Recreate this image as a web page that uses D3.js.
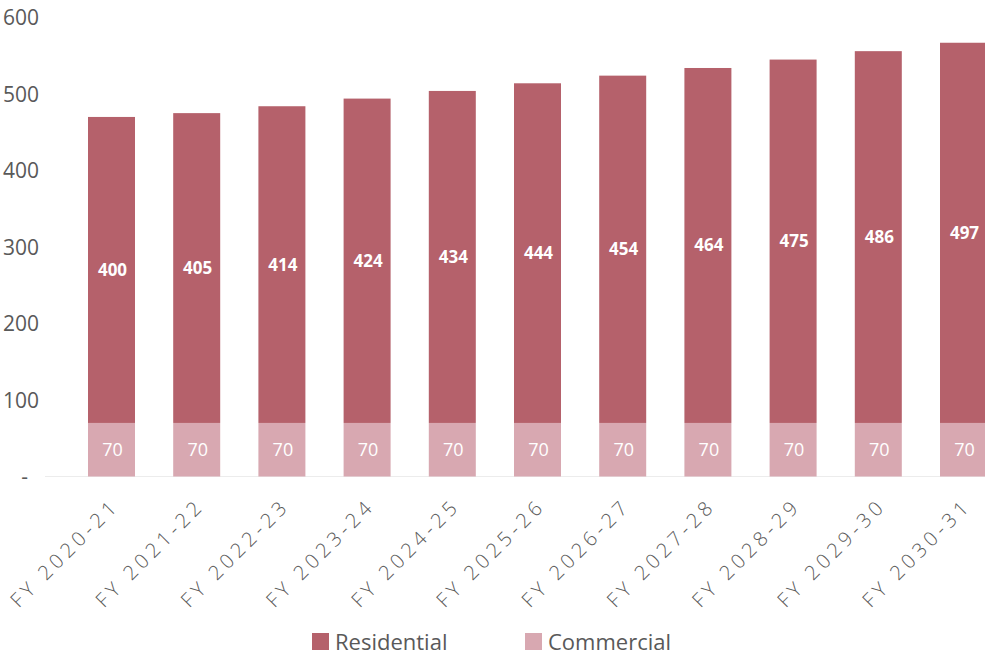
<!DOCTYPE html>
<html lang="en">
<head>
<meta charset="utf-8">
<title>Residential and Commercial</title>
<script src="https://cdn.jsdelivr.net/npm/d3@7"></script>
<style>
  body { margin: 0; background: #fff; }
  svg { display: block; }
</style>
</head>
<body>
<script>
// data
var categories = ["FY 2020-21", "FY 2021-22", "FY 2022-23", "FY 2023-24", "FY 2024-25",
                  "FY 2025-26", "FY 2026-27", "FY 2027-28", "FY 2028-29", "FY 2029-30", "FY 2030-31"];
var commercial = [70, 70, 70, 70, 70, 70, 70, 70, 70, 70, 70];
var residential = [400, 405, 414, 424, 434, 444, 454, 464, 475, 486, 497];
var yTicks = [0, 100, 200, 300, 400, 500, 600];
var seriesNames = ["Residential", "Commercial"];

var w = 985, h = 655;
var colResidential = "#b5616b";
var colCommercial = "#d8a8b1";
var textGrey = "#595959";
var font = "'Open Sans', sans-serif";

var svg = d3.select("body").append("svg")
    .attr("width", w)
    .attr("height", h);

var x = d3.scaleBand()
    .domain(categories)
    .range([68.9, 1006.1])
    .paddingInner(0.4484)
    .paddingOuter(0.2242);

var y = d3.scaleLinear()
    .domain([0, 600])
    .range([476.5, 17.5]);

// stacked data
var rows = categories.map(function(c, i) {
  return { cat: c, Commercial: commercial[i], Residential: residential[i] };
});
var stack = d3.stack().keys(["Commercial", "Residential"]);
var layers = stack(rows);
var colors = { Commercial: colCommercial, Residential: colResidential };

// faint baseline
svg.append("line")
   .attr("x1", 45).attr("x2", w)
   .attr("y1", y(0)).attr("y2", y(0))
   .attr("stroke", "#ececec")
   .attr("stroke-width", 1);

// y axis
var yAxis = svg.append("g")
    .attr("transform", "translate(39,0)")
    .call(d3.axisLeft(y).tickValues(yTicks).tickSize(0).tickPadding(0)
      .tickFormat(function(d) { return d === 0 ? "-" : d; }));
yAxis.select(".domain").remove();
yAxis.selectAll("text")
    .attr("font-family", font)
    .attr("font-size", "21px")
    .attr("fill", textGrey)
    .attr("dy", "0.35em");
yAxis.selectAll(".tick").filter(function(d) { return d === 0; })
    .select("text").attr("x", -11);

// bars
var groups = svg.selectAll("g.layer")
    .data(layers)
    .enter().append("g")
    .attr("class", "layer")
    .attr("fill", function(d) { return colors[d.key]; });

groups.selectAll("rect")
    .data(function(d) { return d; })
    .enter().append("rect")
    .attr("x", function(d) { return x(d.data.cat); })
    .attr("y", function(d) { return y(d[1]); })
    .attr("width", x.bandwidth())
    .attr("height", function(d) { return y(d[0]) - y(d[1]); });

// value labels
groups.each(function(layer) {
  var bold = layer.key === "Residential";
  d3.select(this).selectAll("text")
    .data(layer)
    .enter().append("text")
    .text(function(d) { return d.data[layer.key]; })
    .attr("x", function(d) { return x(d.data.cat) + x.bandwidth() / 2 + 1; })
    .attr("y", function(d) { return (y(d[0]) + y(d[1])) / 2; })
    .attr("dy", "0.35em")
    .attr("text-anchor", "middle")
    .attr("font-family", font)
    .attr("font-size", bold ? "17px" : "18px")
    .attr("font-weight", bold ? "bold" : "normal")
    .attr("fill", "#fff");
});

// x labels
svg.append("g").selectAll("text")
    .data(categories)
    .enter().append("text")
    .text(function(d) { return d; })
    .attr("transform", function(d) {
      return "translate(" + (x(d) + x.bandwidth() / 2 + 9) + ",507) rotate(-45)";
    })
    .attr("text-anchor", "end")
    .attr("font-family", font)
    .attr("font-size", "20px")
    .attr("font-weight", 300)
    .attr("letter-spacing", "4.3px")
    .attr("fill", textGrey);

// legend
var legendX = [312, 525];
var legend = svg.append("g").selectAll("g")
    .data(seriesNames)
    .enter().append("g")
    .attr("transform", function(d, i) { return "translate(" + legendX[i] + ",633)"; });
legend.append("rect")
    .attr("width", 17).attr("height", 17)
    .attr("fill", function(d) { return colors[d]; });
legend.append("text")
    .text(function(d) { return d; })
    .attr("x", 23).attr("y", 9)
    .attr("dy", "0.35em")
    .attr("font-family", font)
    .attr("font-size", "22px")
    .attr("fill", textGrey);
</script>
</body>
</html>
